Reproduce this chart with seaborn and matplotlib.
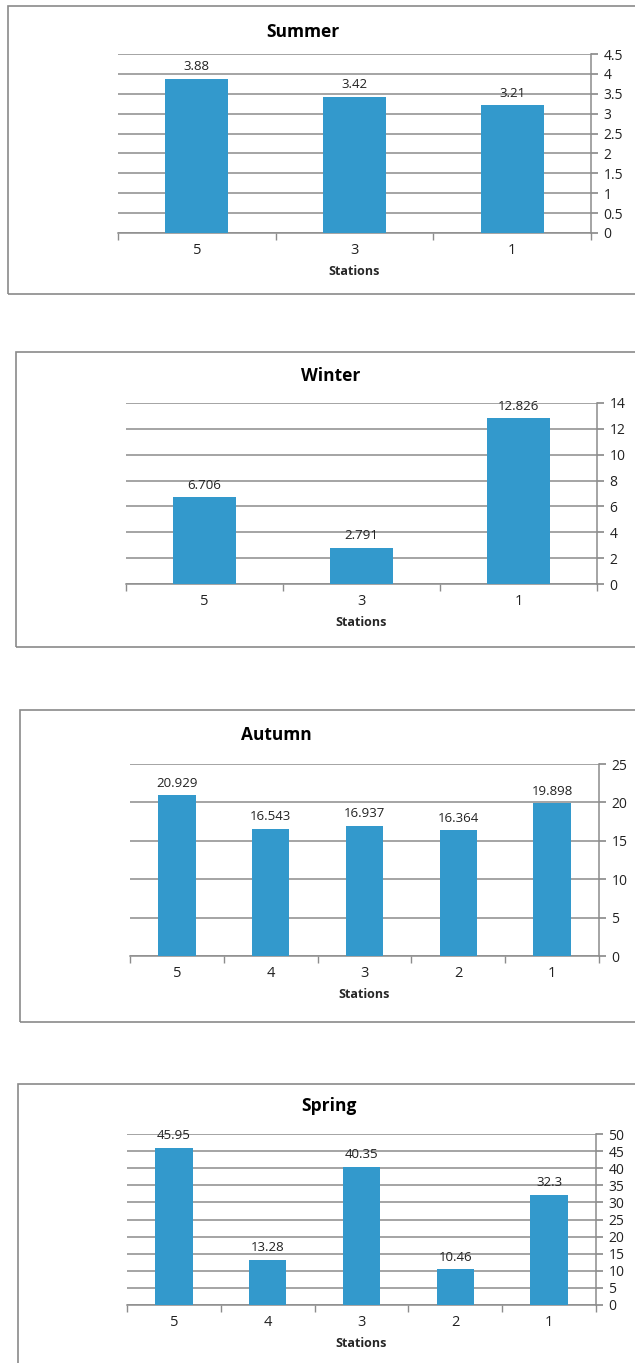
import numpy as np
import matplotlib
matplotlib.use("Agg")
import matplotlib.pyplot as plt
import seaborn as sns
from matplotlib.patches import Rectangle

summer_stations = ["5", "3", "1"]
summer_values = [3.88, 3.42, 3.21]
summer_labels = ["3.88", "3.42", "3.21"]

winter_stations = ["5", "3", "1"]
winter_values = [6.706, 2.791, 12.826]
winter_labels = ["6.706", "2.791", "12.826"]

autumn_stations = ["5", "4", "3", "2", "1"]
autumn_values = [20.929, 16.543, 16.937, 16.364, 19.898]
autumn_labels = ["20.929", "16.543", "16.937", "16.364", "19.898"]

spring_stations = ["5", "4", "3", "2", "1"]
spring_values = [45.95, 13.28, 40.35, 10.46, 32.3]
spring_labels = ["45.95", "13.28", "40.35", "10.46", "32.3"]

sns.set_theme(style="white")
plt.rcParams['font.family'] = ['Open Sans', 'DejaVu Sans']

W, H = 635, 1363
fig = plt.figure(figsize=(W / 100, H / 100), dpi=100)

bar_color = "#3399cc"
grid_color = "#8c8c8c"

# (title, stations, values, labels, ymax, ystep, axes box px, frame box px, title x px, title y px)
panels = [
    ("Summer", summer_stations, summer_values, summer_labels, 4.5, 0.5,
     (118, 54, 591, 233), (8, 6, 660, 294), 303, 32),
    ("Winter", winter_stations, winter_values, winter_labels, 14, 2,
     (126, 403, 597, 584), (16, 352, 660, 647), 331, 376),
    ("Autumn", autumn_stations, autumn_values, autumn_labels, 25, 5,
     (130, 764, 599, 956), (20, 710, 660, 1022), 276, 735),
    ("Spring", spring_stations, spring_values, spring_labels, 50, 5,
     (127, 1134, 596, 1305), (18, 1084, 660, 1380), 329, 1106),
]

for title, stations, values, labels, ymax, ystep, box, frame, tx, ty in panels:
    fx0, fy0, fx1, fy1 = frame
    fig.patches.append(Rectangle((fx0 / W, 1 - fy1 / H), (fx1 - fx0) / W, (fy1 - fy0) / H,
                                 transform=fig.transFigure, fill=False,
                                 edgecolor="#8a8a8a", linewidth=1.2))

    x0, y0, x1, y1 = box
    ax = fig.add_axes([x0 / W, 1 - y1 / H, (x1 - x0) / W, (y1 - y0) / H])
    sns.barplot(x=stations, y=values, order=stations, color=bar_color,
                width=0.4, saturation=1, linewidth=0, ax=ax, zorder=3)

    n = len(stations)
    ax.set_xlim(-0.5, n - 0.5)
    ax.set_ylim(0, ymax)
    ax.set_yticks(np.arange(0, ymax + ystep / 2, ystep))
    ax.yaxis.tick_right()
    ax.tick_params(axis="y", direction="out", length=5, color=grid_color,
                   labelsize=10, labelcolor="#222222", pad=4)
    ax.set_yticklabels([f"{v:g}" for v in ax.get_yticks()])
    ax.yaxis.grid(True, color=grid_color, linewidth=1.1, zorder=0)

    ax.set_xticks(range(n))
    ax.set_xticklabels(stations)
    ax.set_xticks(np.arange(-0.5, n), minor=True)
    ax.tick_params(axis="x", which="major", length=0, labelsize=10.5,
                   labelcolor="#222222", pad=7)
    ax.tick_params(axis="x", which="minor", direction="out", length=5,
                   color=grid_color, bottom=True)

    ax.set_xlabel("Stations", fontsize=9, fontweight="bold", labelpad=5)
    ax.set_ylabel("")

    for side in ["left", "top"]:
        ax.spines[side].set_visible(False)
    for side in ["right", "bottom"]:
        ax.spines[side].set_visible(True)
        ax.spines[side].set_color(grid_color)
        ax.spines[side].set_linewidth(1.1)

    for i, (v, lab) in enumerate(zip(values, labels)):
        ax.annotate(lab, (i, v), xytext=(0, 4), textcoords="offset points",
                    ha="center", va="bottom", fontsize=9.5, color="#222222")

    fig.text(tx / W, 1 - ty / H, title, ha="center", va="center",
             fontsize=12.5, fontweight="bold", color="black")

fig.savefig("out.png", dpi=100, facecolor="white")
